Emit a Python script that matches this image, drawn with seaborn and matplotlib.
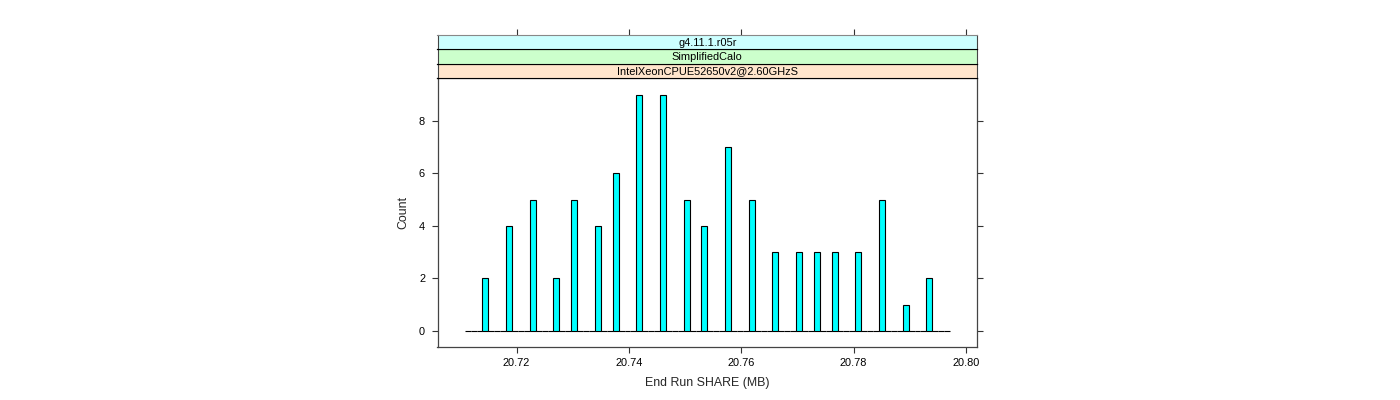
import numpy as np
import pandas as pd
import matplotlib
matplotlib.use("Agg")
import matplotlib.pyplot as plt
import seaborn as sns

# bar centres (MB) and their counts
share_mb = [20.71452, 20.71870, 20.72297, 20.72716, 20.73027, 20.73445, 20.73762,
            20.74193, 20.74611, 20.75033, 20.75347, 20.75769, 20.76190, 20.76611,
            20.77036, 20.77340, 20.77664, 20.78088, 20.78510, 20.78925, 20.79352]
counts = [2, 4, 5, 2, 5, 4, 6, 9, 9, 5, 4, 7, 5, 3, 3, 3, 3, 3, 5, 1, 2]

# histogram range and number of breaks
hist_lo, hist_hi, n_bins = 20.71078, 20.79715, 82

x_ticks = [20.72, 20.74, 20.76, 20.78, 20.80]
x_tick_labels = ["20.72", "20.74", "20.76", "20.78", "20.80"]
y_ticks = [0, 2, 4, 6, 8]

# strip labels, bottom to top, with lattice strip colours
strip_labels = ["IntelXeonCPUE52650v2@2.60GHzS", "SimplifiedCalo", "g4.11.1.r05r"]
strip_colors = ["#ffe5cc", "#ccffcc", "#ccffff"]

sns.set_style("white")
plt.rcParams['font.family'] = ['Liberation Sans', 'DejaVu Sans']

df = pd.DataFrame({"share": share_mb, "n": counts})

fig = plt.figure(figsize=(14, 4), dpi=100)

# --- main panel ---
ax = fig.add_axes([0.3125, 0.13175, 0.3854, 0.67325])
edges = list(np.linspace(hist_lo, hist_hi, n_bins + 1))
sns.histplot(data=df, x="share", weights="n", bins=edges, ax=ax,
             color="#00ffff", edgecolor="black", linewidth=0.8, alpha=1)

ax.set_xlim(20.70594, 20.80196)
ax.set_ylim(-0.63, 9.63)
ax.set_xticks(x_ticks)
ax.set_xticklabels(x_tick_labels)
ax.set_yticks(y_ticks)
ax.tick_params(axis="both", direction="out", length=4.2, width=0.8,
               color="#333333", labelsize=7.9, labelcolor="black")
ax.tick_params(axis="x", pad=3.4, top=False, bottom=True)
ax.tick_params(axis="y", pad=4.8, left=True, right=True)
ax.set_xlabel("End Run SHARE (MB)", fontsize=8.9, labelpad=6.5)
ax.set_ylabel("Count", fontsize=8.9, labelpad=7)
for sp in ax.spines.values():
    sp.set_visible(True)
    sp.set_color("#444444")
    sp.set_linewidth(0.9)

# --- strips stacked above the panel ---
strip_h = 0.036
for i, (lab, col) in enumerate(zip(strip_labels, strip_colors)):
    sax = fig.add_axes([0.3125, 0.805 + i * strip_h, 0.3854, strip_h])
    sax.set_facecolor(col)
    sax.set_xlim(ax.get_xlim())
    sax.set_ylim(0, 1)
    sax.set_yticks([])
    sax.text(0.5, 0.45, lab, transform=sax.transAxes, ha="center", va="center",
             fontsize=7.9, color="black")
    for sp in sax.spines.values():
        sp.set_visible(True)
        sp.set_color("black")
        sp.set_linewidth(0.8)
    sax.spines["left"].set_color("#444444")
    sax.spines["right"].set_color("#444444")
    if i == len(strip_labels) - 1:
        # top axis ticks sit above the top strip
        sax.spines["top"].set_color("#888888")
        sax.set_xticks(x_ticks)
        sax.tick_params(axis="x", bottom=False, top=True, labelbottom=False,
                        labeltop=False, direction="out", length=4.2, width=0.8,
                        color="#333333")
    else:
        sax.set_xticks([])

fig.savefig("out.png", dpi=100)
